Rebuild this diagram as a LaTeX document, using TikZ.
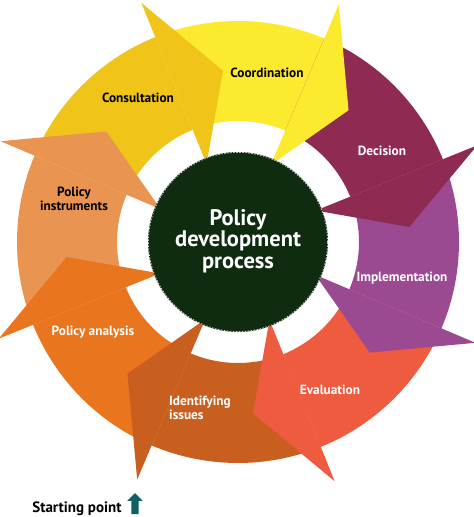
\documentclass[tikz,border=0pt]{standalone}
\usepackage{fontspec}
\setmainfont{PT Sans}
\usetikzlibrary{positioning, shapes.arrows}

\definecolor{idenorange}{HTML}{C95F1F}
\definecolor{analorange}{HTML}{E9761E}
\definecolor{instorange}{HTML}{EA9452}
\definecolor{consgold}{HTML}{F0C419}
\definecolor{coordyellow}{HTML}{FCEA2F}
\definecolor{decimaroon}{HTML}{8F2A52}
\definecolor{implpurple}{HTML}{9B4A92}
\definecolor{evalcoral}{HTML}{EE5B3F}
\definecolor{coredark}{HTML}{0F2B10}
\definecolor{startteal}{HTML}{0F5F63}

\tikzset{
  seglabel/.style={font=\bfseries\fontsize{13.3}{14.5}\selectfont, align=center, inner sep=0pt},
  darklabel/.style={seglabel, text=black},
  lightlabel/.style={seglabel, text=white},
}

\begin{document}
\begin{tikzpicture}[x=1pt, y=1pt]
  \useasboundingbox (-238,-275) rectangle (236,242);

  % ring pieces, clockwise from the starting point
  \foreach \tip/\col in {-130/idenorange, -175/analorange, 140/instorange, 95/consgold,
                         50/coordyellow, 5/decimaroon, -40/implpurple, -85/evalcoral}
    \fill[\col] ({\tip+62}:221) arc[start angle=\tip+62, end angle=\tip+17, radius=221]
      -- ({\tip+17}:121) arc[start angle=\tip+17, end angle=\tip+62, radius=121] -- cycle;

  % arrow heads lie over the next piece
  \foreach \tip/\col in {-130/idenorange, -175/analorange, 140/instorange, 95/consgold,
                         50/coordyellow, 5/decimaroon, -40/implpurple, -85/evalcoral}
    \fill[\col] ({\tip+17}:258) -- (\tip:172) -- ({\tip+17}:84) -- cycle;

  % centre disc
  \fill[coredark] (0,0) circle[radius=90];
  \draw[white!70!gray, line width=0.8pt, dash pattern=on 1.5pt off 1.5pt] (0,0) circle[radius=89.6];
  \node[text=white, align=center, inner sep=0pt, font=\bfseries\fontsize{22.5}{21.5}\selectfont]
    (core) at (0,1) {Policy\\development\\process};

  % stage labels
  \node[darklabel] (coordination) at (29,169) {Coordination};
  \node[darklabel] (consultation) at (-100,144) {Consultation};
  \node[lightlabel] (decision) at (144,91) {Decision};
  \node[darklabel] (instruments) at (-164,43) {Policy\\instruments};
  \node[lightlabel] (implementation) at (164,-36) {Implementation};
  \node[lightlabel] (analysis) at (-145,-90) {Policy analysis};
  \node[lightlabel] (evaluation) at (92,-148) {Evaluation};
  \node[lightlabel, align=left] (issues) at (-38,-166) {Identifying\\issues};

  % starting point marker
  \node[single arrow, fill=startteal, shape border rotate=90, inner sep=3.5pt,
        minimum height=21pt, single arrow head extend=4pt]
    (startarrow) at (-103,-263.5) {};
  \node[font=\bfseries\fontsize{15}{16}\selectfont, left=6pt of startarrow, yshift=-3pt]
    (startlabel) {Starting point};
\end{tikzpicture}
\end{document}
